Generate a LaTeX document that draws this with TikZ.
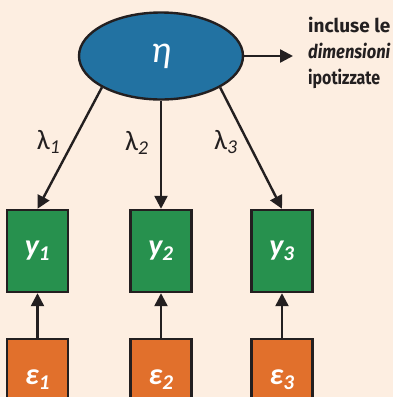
\documentclass[tikz,border=0pt]{standalone}
\usepackage{fontspec}
\setmainfont{Carlito}
\newfontfamily\notefont{Fira Sans}
\usetikzlibrary{arrows.meta, shapes.geometric, positioning}
\definecolor{peachbg}{HTML}{FDEEE1}
\definecolor{etablue}{HTML}{2272A2}
\definecolor{itemgreen}{HTML}{27914E}
\definecolor{erroramber}{HTML}{E1702C}
\definecolor{inkgrey}{HTML}{231F20}

\begin{document}
\begin{tikzpicture}[x=1pt, y=-1pt, line width=2.4pt,
    tip/.style={draw=inkgrey, -{Triangle[length=13pt, width=13pt]}},
    itembox/.style={rectangle, fill=itemgreen, draw=inkgrey, line width=2.4pt,
      minimum width=61pt, minimum height=82pt, text=white, font=\fontsize{30}{34}\selectfont\bfseries\itshape},
    errbox/.style={itembox, fill=erroramber},
    loadlab/.style={text=inkgrey, font=\fontsize{28}{30}\selectfont}]
  % sfondo
  \fill[peachbg] (0,0) rectangle (393,397);
  \useasboundingbox (0,0) rectangle (393,397);

  % variabile latente
  \node[ellipse, fill=etablue, draw=inkgrey, minimum width=164pt, minimum height=87pt,
    text=white, font=\fontsize{38}{40}\selectfont\itshape] (eta) at (161,56) {η};
  \node[anchor=west, align=left, inner sep=0pt, text=inkgrey, font=\notefont\fontsize{19}{26}\selectfont\bfseries] (nota) at (307,53)
    {incluse le\\\scalebox{0.87}[1]{\textit{dimensioni}}\\\scalebox{0.84}[1]{ipotizzate}};
  \draw[tip, shorten >=14pt] (eta.east) -- (eta.east -| nota.west);

  % indicatori ed errori
  \node[itembox] (y1) at (37.5,251) {y\textsubscript{1}};
  \node[itembox] (y2) at (161,251) {y\textsubscript{2}};
  \node[itembox] (y3) at (282,251) {y\textsubscript{3}};
  \node[errbox] (e1) at (37.5,380) {ε\textsubscript{1}};
  \node[errbox] (e2) at (161,380) {ε\textsubscript{2}};
  \node[errbox] (e3) at (282,380) {ε\textsubscript{3}};

  % saturazioni
  \draw[tip] (eta.-152) -- (y1.north) node[loadlab, pos=0.45, left=8pt] {λ\textsubscript{\itshape 1}};
  \draw[tip] (eta.south) -- (y2.north) node[loadlab, pos=0.39, left=8pt] {λ\textsubscript{\itshape 2}};
  \draw[tip] (eta.-28) -- (y3.north) node[loadlab, pos=0.45, left=6pt] {λ\textsubscript{\itshape 3}};

  % errori
  \draw[tip] (e1) -- (y1);
  \draw[tip] (e2) -- (y2);
  \draw[tip] (e3) -- (y3);
\end{tikzpicture}
\end{document}
